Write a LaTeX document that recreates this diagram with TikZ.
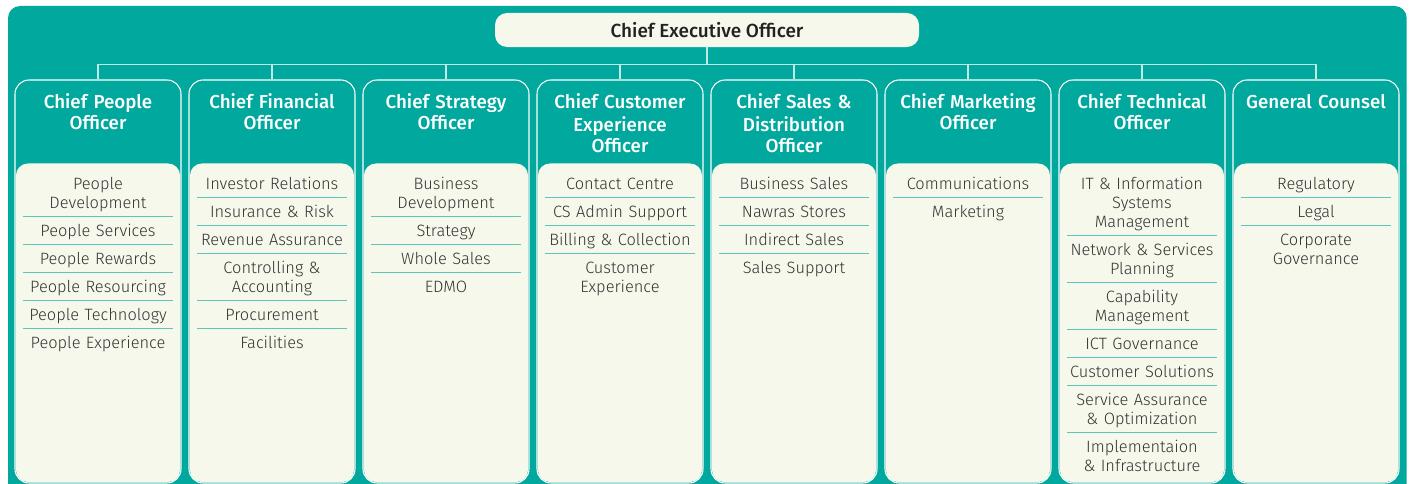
\documentclass[tikz,border=0pt]{standalone}
\usepackage{fontspec}
\setmainfont{Fira Sans}
\newfontfamily\lightfont{Fira Sans Light}
\newfontfamily\semifont{Fira Sans Medium}
\usepackage{xcolor}
\usetikzlibrary{positioning, calc}
\definecolor{myteal}{RGB}{0,168,157}
\definecolor{mycream}{RGB}{247,248,236}
\definecolor{mysep}{RGB}{92,198,186}
\definecolor{mybus}{RGB}{192,234,228}
\definecolor{mytext}{RGB}{50,50,50}
\definecolor{mydark}{RGB}{34,34,34}
\newcommand{\itemtop}{\rule{0pt}{14.5pt}}
\newcommand{\itembot}{\rule[-4.3pt]{0pt}{4.3pt}}
\tikzset{
  ceobox/.style={rectangle, fill=mycream, rounded corners=0.36cm,
    minimum width=12.72cm, minimum height=1.02cm, text=mydark,
    font=\semifont\fontsize{16.2pt}{17.9pt}\selectfont},
  officer/.style={rectangle, draw=white, fill=myteal, line width=0.9pt,
    rounded corners=0.42cm, minimum width=4.98cm, minimum height=12.09cm, inner sep=0pt},
  head/.style={text width=4.9cm, align=center, inner sep=0pt, text=white,
    font=\semifont\fontsize{16pt}{17.9pt}\selectfont, execute at begin node=\strut},
  unit/.style={text width=4.8cm, align=center, inner xsep=0pt, inner ysep=2.35pt,
    text=mytext, font=\lightfont\fontsize{14pt}{16.2pt}\selectfont,
    execute at begin node=\itemtop, execute at end node=\itembot},
  sepline/.style={draw=mysep, line width=0.8pt, shorten <=0.15cm, shorten >=0.15cm},
  ruled/.style={append after command={(\tikzlastnode.south west) edge[sepline] (\tikzlastnode.south east)}},
  bus/.style={draw=mybus, line width=1.2pt},
  panel/.style={fill=mycream, rounded corners=0.36cm}
}
\begin{document}
\begin{tikzpicture}
  \useasboundingbox (0,0) rectangle (42.33,-14.52);
  \fill[myteal, rounded corners=0.36cm] (0.24,-0.18) rectangle (42.2,-15);

  % CEO on top
  \node[ceobox] (ceo) at (21.21,-0.9) {Chief Executive Officer};

  % Officer columns
  \node[officer] (cpo) at (2.94,-8.445) {};
  \node[officer] (cfo) at (8.16,-8.445) {};
  \node[officer] (cso) at (13.38,-8.445) {};
  \node[officer] (ccxo) at (18.60,-8.445) {};
  \node[officer] (csdo) at (23.82,-8.445) {};
  \node[officer] (cmo) at (29.04,-8.445) {};
  \node[officer] (cto) at (34.26,-8.445) {};
  \node[officer] (gc) at (39.48,-8.445) {};

  % Bus from CEO down to every column
  \foreach \o in {cpo,cfo,cso,ccxo,csdo,cmo,cto,gc} {
    \draw[bus] (ceo.south) -- ++(0,-0.525) -| (\o.north);
    \fill[panel] ($(\o.south west)+(0.045,0.045)$) rectangle ($(\o.north east)+(-0.045,-2.52)$);
  }

  % Column titles
  \node[head, below=0.43cm of cpo.north] (cpoh) {Chief People\\Officer};
  \node[head, below=0.43cm of cfo.north] (cfoh) {Chief Financial\\Officer};
  \node[head, below=0.43cm of cso.north] (csoh) {Chief Strategy\\Officer};
  \node[head, below=0.43cm of ccxo.north] (ccxoh) {Chief Customer\\Experience\\Officer};
  \node[head, below=0.43cm of csdo.north] (csdoh) {Chief Sales \&\\Distribution\\Officer};
  \node[head, below=0.43cm of cmo.north] (cmoh) {Chief Marketing\\Officer};
  \node[head, below=0.43cm of cto.north] (ctoh) {Chief Technical\\Officer};
  \node[head, below=0.43cm of gc.north] (gch) {General Counsel};

  % People
  \node[unit, ruled, below=2.7cm of cpo.north] (cpo1) {People\\Development};
  \node[unit, ruled, below=0pt of cpo1] (cpo2) {People Services};
  \node[unit, ruled, below=0pt of cpo2] (cpo3) {People Rewards};
  \node[unit, ruled, below=0pt of cpo3] (cpo4) {People Resourcing};
  \node[unit, ruled, below=0pt of cpo4] (cpo5) {People Technology};
  \node[unit, below=0pt of cpo5] (cpo6) {People Experience};

  % Finance
  \node[unit, ruled, below=2.7cm of cfo.north] (cfo1) {Investor Relations};
  \node[unit, ruled, below=0pt of cfo1] (cfo2) {Insurance \& Risk};
  \node[unit, ruled, below=0pt of cfo2] (cfo3) {Revenue Assurance};
  \node[unit, ruled, below=0pt of cfo3] (cfo4) {Controlling \&\\Accounting};
  \node[unit, ruled, below=0pt of cfo4] (cfo5) {Procurement};
  \node[unit, below=0pt of cfo5] (cfo6) {Facilities};

  % Strategy
  \node[unit, ruled, below=2.7cm of cso.north] (cso1) {Business\\Development};
  \node[unit, ruled, below=0pt of cso1] (cso2) {Strategy};
  \node[unit, ruled, below=0pt of cso2] (cso3) {Whole Sales};
  \node[unit, below=0pt of cso3] (cso4) {EDMO};

  % Customer experience
  \node[unit, ruled, below=2.7cm of ccxo.north] (ccxo1) {Contact Centre};
  \node[unit, ruled, below=0pt of ccxo1] (ccxo2) {CS Admin Support};
  \node[unit, ruled, below=0pt of ccxo2] (ccxo3) {Billing \& Collection};
  \node[unit, below=0pt of ccxo3] (ccxo4) {Customer\\Experience};

  % Sales & distribution
  \node[unit, ruled, below=2.7cm of csdo.north] (csdo1) {Business Sales};
  \node[unit, ruled, below=0pt of csdo1] (csdo2) {Nawras Stores};
  \node[unit, ruled, below=0pt of csdo2] (csdo3) {Indirect Sales};
  \node[unit, below=0pt of csdo3] (csdo4) {Sales Support};

  % Marketing
  \node[unit, ruled, below=2.7cm of cmo.north] (cmo1) {Communications};
  \node[unit, below=0pt of cmo1] (cmo2) {Marketing};

  % Technical
  \node[unit, ruled, below=2.7cm of cto.north] (cto1) {IT \& Information\\Systems\\Management};
  \node[unit, ruled, below=0pt of cto1] (cto2) {Network \& Services\\Planning};
  \node[unit, ruled, below=0pt of cto2] (cto3) {Capability\\Management};
  \node[unit, ruled, below=0pt of cto3] (cto4) {ICT Governance};
  \node[unit, ruled, below=0pt of cto4] (cto5) {Customer Solutions};
  \node[unit, ruled, below=0pt of cto5] (cto6) {Service Assurance\\\& Optimization};
  \node[unit, below=0pt of cto6] (cto7) {Implementaion\\\& Infrastructure};

  % Counsel
  \node[unit, ruled, below=2.7cm of gc.north] (gc1) {Regulatory};
  \node[unit, ruled, below=0pt of gc1] (gc2) {Legal};
  \node[unit, below=0pt of gc2] (gc3) {Corporate\\Governance};
\end{tikzpicture}
\end{document}
